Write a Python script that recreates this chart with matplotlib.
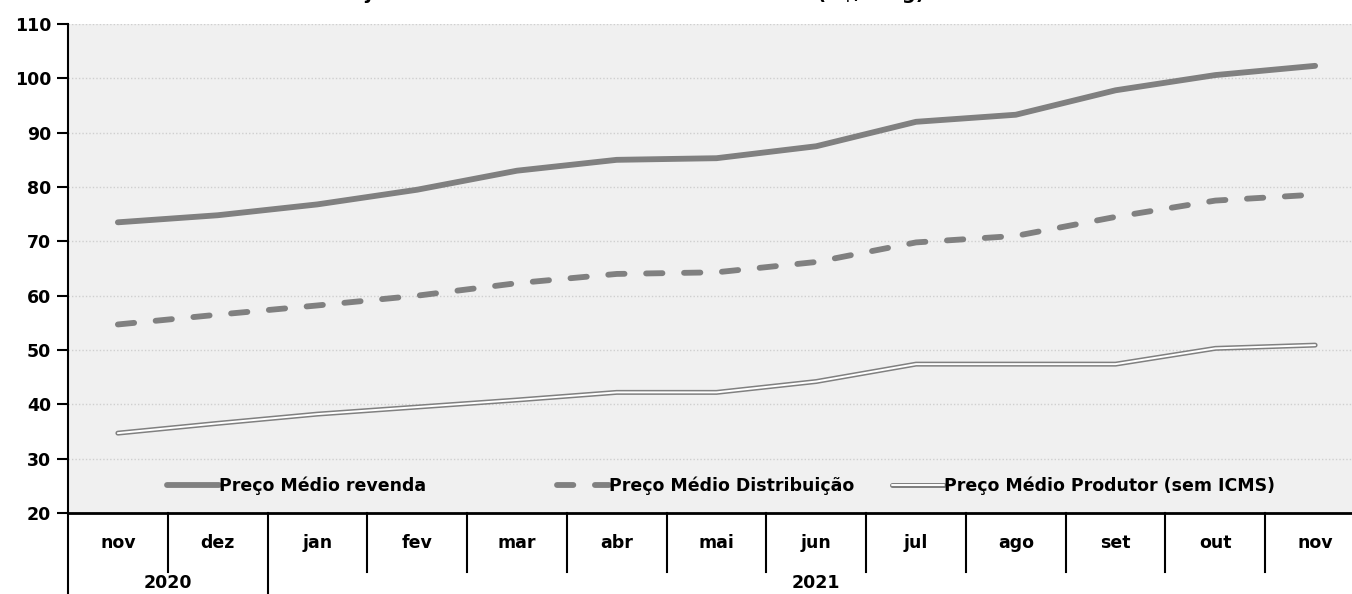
import matplotlib
matplotlib.use("Agg")
import matplotlib.pyplot as plt
from matplotlib.legend_handler import HandlerTuple

# data (R$ per 13 kg cylinder)
months = ["nov", "dez", "jan", "fev", "mar", "abr", "mai", "jun", "jul", "ago", "set", "out", "nov"]
years = ["2020", "2021"]
year_span = [2, 11]  # number of months under each year
revenda = [73.5, 74.8, 76.8, 79.5, 83.0, 85.0, 85.3, 87.5, 92.0, 93.3, 97.8, 100.6, 102.3]
distribuicao = [54.7, 56.5, 58.2, 60.0, 62.3, 64.0, 64.3, 66.2, 69.8, 71.0, 74.5, 77.5, 78.6]
produtor = [34.7, 36.5, 38.2, 39.5, 40.8, 42.2, 42.2, 44.2, 47.4, 47.4, 47.4, 50.3, 50.9]
yticks = list(range(20, 111, 10))
labels = ["Preço Médio revenda", "Preço Médio Distribuição", "Preço Médio Produtor (sem ICMS)"]
title = "Média do Botijão de 13 kilos – Valores Médios Mensais (R$/13kg)"

FONT = "DejaVu Sans"
FS = 12.5
GRAY = "#808080"

fig = plt.figure(figsize=(13.52, 5.94), dpi=100)
# plot area runs past the right edge of the image, as in the reference
ax = fig.add_axes([68 / 1352, 81 / 594, 1297 / 1352, 489 / 594])
ax.set_facecolor("#f0f0f0")

x = list(range(len(months)))
l1, = ax.plot(x, revenda, color=GRAY, lw=4.2, solid_capstyle="round", zorder=3)
l2, = ax.plot(x, distribuicao, color=GRAY, lw=4.2, dashes=(2.8, 3.7),
              dash_capstyle="round", zorder=3)
l3a, = ax.plot(x, produtor, color=GRAY, lw=3.6, solid_capstyle="round", zorder=3)
l3b, = ax.plot(x, produtor, color="white", lw=1.4, solid_capstyle="round", zorder=4)

ax.set_xlim(-0.5, len(months) - 0.5)
ax.set_ylim(20, 110)
ax.set_yticks(yticks)
ax.set_yticklabels([str(v) for v in yticks], fontfamily=FONT, fontweight="bold", fontsize=FS)
ax.yaxis.grid(True, color="#cfcfcf", linestyle=(0, (1, 1.5)), lw=1)
ax.set_axisbelow(True)
ax.tick_params(axis="y", direction="out", length=8, width=1.5, pad=4)
ax.set_xticks([])
for s in ["top", "right"]:
    ax.spines[s].set_visible(False)
ax.spines["left"].set_linewidth(1.5)
ax.spines["bottom"].set_linewidth(2)

# two-level category axis
trans = ax.get_xaxis_transform()
month_y, year_y = -0.061, -0.143
for i, m in enumerate(months):
    ax.text(i, month_y, m, transform=trans, ha="center", va="center",
            fontfamily=FONT, fontweight="bold", fontsize=FS)
boundaries = []
start = 0
for n in year_span:
    boundaries.append(start)
    start += n
boundaries.append(start)
for i in range(len(months) + 1):
    bottom = -0.1656 if i in boundaries else -0.1207
    ax.plot([i - 0.5, i - 0.5], [0, bottom], transform=trans, color="black",
            lw=1.5, clip_on=False)
for k, yr in enumerate(years):
    mid = (boundaries[k] + boundaries[k + 1] - 1) / 2
    ax.text(mid, year_y, yr, transform=trans, ha="center", va="center",
            fontfamily=FONT, fontweight="bold", fontsize=FS)

# one legend per entry so each sits where the reference puts it
legend_x = [160, 550, 885]  # handle start, image px
handles = [l1, l2, (l3a, l3b)]
for k, (h, lab, px) in enumerate(zip(handles, labels, legend_x)):
    leg = ax.legend([h], [lab], handler_map={tuple: HandlerTuple(ndivide=1, pad=0)},
                    loc="lower left", bbox_to_anchor=((px - 68) / 1297, 0.023),
                    frameon=False, handlelength=3.0, handletextpad=0.0,
                    borderaxespad=0.0, borderpad=0.4,
                    prop={"family": FONT, "weight": "bold", "size": FS})
    if k < len(handles) - 1:
        ax.add_artist(leg)

# title sits above the image in the reference, only its descenders show
fig.text(214 / 1352, 1 + 1 / 594, title, ha="left", va="baseline", fontfamily=FONT,
         fontweight="bold", fontsize=14)

fig.savefig("out.png", dpi=100)
